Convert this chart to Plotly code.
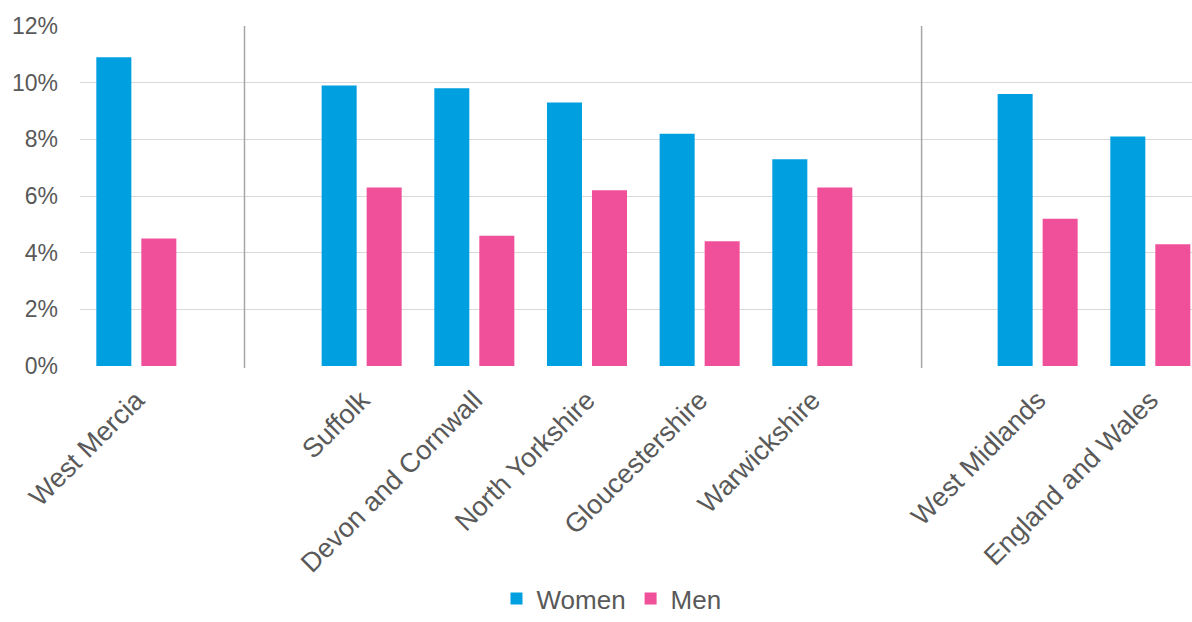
import plotly.graph_objects as go

categories = ["West Mercia", " ", "Suffolk", "Devon and Cornwall", "North Yorkshire",
              "Gloucestershire", "Warwickshire", "  ", "West Midlands", "England and Wales"]
women = [10.9, None, 9.9, 9.8, 9.3, 8.2, 7.3, None, 9.6, 8.1]
men = [4.5, None, 6.3, 4.6, 6.2, 4.4, 6.3, None, 5.2, 4.3]
y_ticks = [0, 2, 4, 6, 8, 10, 12]
y_tick_labels = ["0%", "2%", "4%", "6%", "8%", "10%", "12%"]
separators = [0.96, 6.97]

BLUE = "#009FDF"
PINK = "#F0509A"
TEXT = "#595959"
FONT = "Liberation Sans, Arial, sans-serif"

fig = go.Figure()
fig.add_trace(go.Bar(x=categories, y=women, name="Women", marker=dict(color=BLUE, line=dict(width=0))))
fig.add_trace(go.Bar(x=categories, y=men, name="Men", marker=dict(color=PINK, line=dict(width=0))))

for s in separators:
    fig.add_shape(type="line", xref="x", yref="paper", x0=s, x1=s, y0=-0.006, y1=1,
                  line=dict(color="#A6A6A6", width=1.5), layer="above")

fig.update_layout(
    width=1192, height=622,
    margin=dict(l=80, r=0, t=26, b=256, autoexpand=False),
    plot_bgcolor="white", paper_bgcolor="white",
    barmode="group", bargap=0.201, bargroupgap=0.222,
    font=dict(family=FONT, color=TEXT),
    showlegend=True,
    legend=dict(orientation="h", xref="container", yref="container",
                x=0.513, xanchor="center", y=0.0, yanchor="bottom",
                font=dict(size=26, color=TEXT, family=FONT), itemwidth=30,
                traceorder="normal"),
    xaxis=dict(type="category", range=[-0.5, 9.37], tickangle=-45,
               tickfont=dict(size=27, color=TEXT, family=FONT),
               showgrid=False, showline=False, ticks="", ticklabelstandoff=12),
    yaxis=dict(range=[0, 12], tickvals=y_ticks, ticktext=y_tick_labels,
               tickfont=dict(size=23, color=TEXT, family=FONT),
               showgrid=True, gridcolor="#D9D9D9", gridwidth=1.3,
               zeroline=False, showline=False, ticks="", ticklabelstandoff=21),
)

fig.write_html("out.html")
